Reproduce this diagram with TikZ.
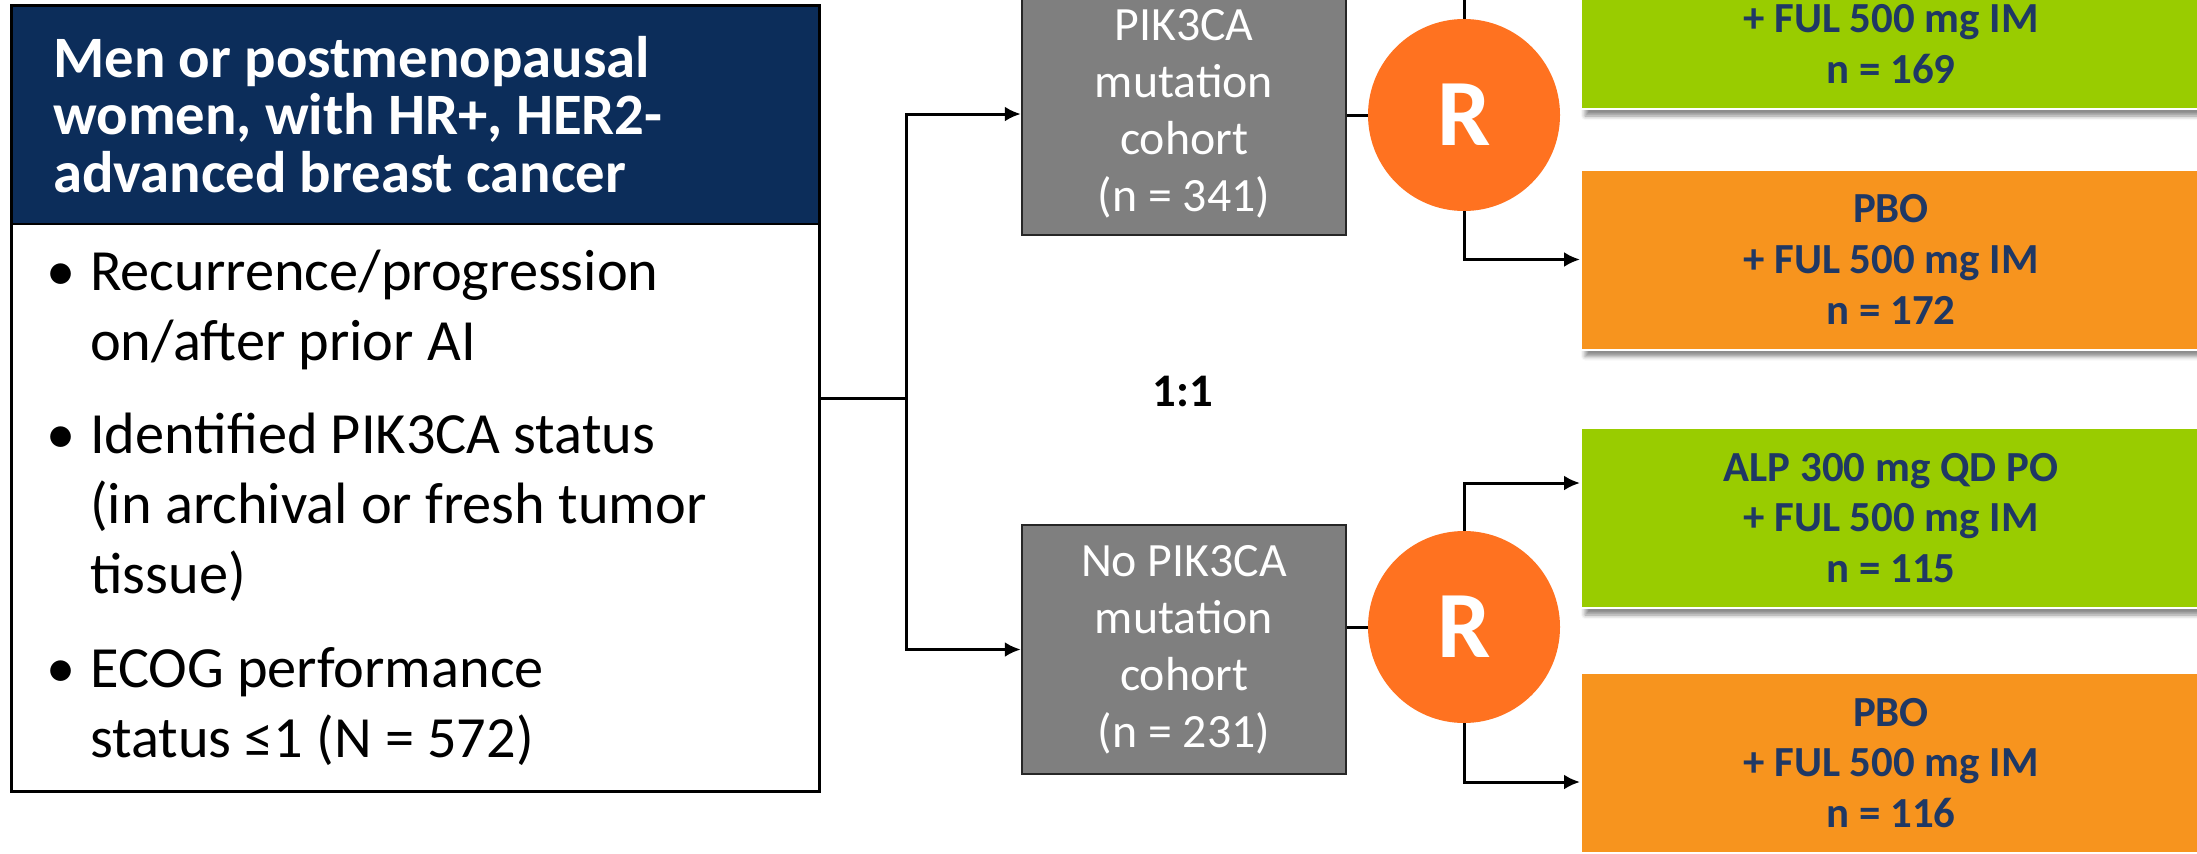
\documentclass[tikz,border=0pt]{standalone}
\usepackage{fontspec}
\setmainfont{Carlito}
\usepackage{tikz}
\usetikzlibrary{arrows.meta,shapes.multipart,shadows.blur}
\definecolor{hdrblue}{RGB}{12,45,90}
\definecolor{armgreen}{RGB}{153,204,0}
\definecolor{armorange}{RGB}{247,148,30}
\definecolor{rorange}{RGB}{255,114,32}
\definecolor{armtext}{RGB}{31,56,100}
\definecolor{cohortgray}{RGB}{127,127,127}
\newcommand{\bulletline}{\makebox[0.88cm][l]{\textbullet}}
\newcommand{\contline}{\hspace*{0.88cm}}
\tikzset{
	>={Latex[length=0.32cm,width=0.3cm]},
	line/.style={line width=0.06cm},
	elig/.style={
			draw,
			line width=0.05cm,
			rectangle split,
			rectangle split parts=2,
			rectangle split part fill={hdrblue,white},
			inner sep=0pt
		},
	cohort/.style={
			draw=black!85,
			line width=0.05cm,
			fill=cohortgray,
			text=white,
			minimum width=6.48cm,
			minimum height=4.98cm,
			align=center,
			font=\fontsize{27.2}{32.4}\selectfont,
			execute at begin node=\rule{0pt}{1.1cm}
		},
	arm/.style={
			draw=white,
			line width=0.04cm,
			minimum width=12.4cm,
			minimum height=3.6cm,
			align=center,
			text=armtext,
			font=\bfseries\fontsize{24.4}{28.9}\selectfont,
			blur shadow={shadow xshift=0.08cm, shadow yshift=-0.14cm, shadow blur radius=0.08cm, shadow opacity=45}
		},
	rand/.style={
			circle,
			fill=rorange,
			minimum size=3.84cm,
			text=white,
			font=\bfseries\fontsize{54}{54}\selectfont
		}
}
\begin{document}
\begin{tikzpicture}
	\useasboundingbox (0,0) rectangle (43.94,-17.06);
	\clip (0,0) rectangle (43.94,-17.06);

	% eligibility
	\node[elig, anchor=north west] at (0.2,-0.08) (elig) {\parbox[c][4.32cm][c]{16.16cm}{\leftskip=0.84cm
			\color{white}\bfseries\fontsize{33.4}{32.9}\selectfont
			Men or postmenopausal\\
			women, with HR+, HER2-\\
			advanced breast cancer}
		\nodepart{second}
		\parbox[c][11.3cm][c]{16.16cm}{\fontsize{33.2}{39.7}\selectfont\leftskip=0.7cm
			\bulletline Recurrence/progression\\
			\contline on/after prior AI\par\vspace{0.48cm}
			\bulletline Identified PIK3CA status\\
			\contline (in archival or fresh tumor\\
			\contline tissue)\par\vspace{0.48cm}
			\bulletline ECOG performance\\
			\contline status ≤1 (N = 572)}};

	% cohorts
	\node[cohort, minimum height=4.84cm, execute at begin node=\rule{0pt}{1.26cm}] at (23.68,-2.28) (pik) {PIK3CA\\mutation\\cohort\\(n = 341)};
	\node[cohort] at (23.68,-12.99) (nopik) {No PIK3CA\\mutation\\cohort\\(n = 231)};
	\node[font=\bfseries\fontsize{26.6}{26.6}\selectfont] at (23.66,-7.82) (ratio) {1:1};

	% randomisation
	\node[rand] at (29.28,-2.3) (r1) {R};
	\node[rand] at (29.28,-12.54) (r2) {R};

	% arms
	\node[arm, fill=armgreen] at (37.82,-0.38) (alp1) {ALP 300 mg QD PO\\+ FUL 500 mg IM\\n = 169};
	\node[arm, fill=armorange] at (37.82,-5.19) (pbo1) {PBO\\+ FUL 500 mg IM\\n = 172};
	\node[arm, fill=armgreen] at (37.82,-10.36) (alp2) {ALP 300 mg QD PO\\+ FUL 500 mg IM\\n = 115};
	\node[arm, fill=armorange] at (37.82,-15.26) (pbo2) {PBO\\+ FUL 500 mg IM\\n = 116};

	\draw[line] (elig.east) -- ++(1.72,0) coordinate (split);
	\draw[line, ->] (split) |- (pik.west);
	\draw[line, ->] (split) |- (nopik.west);

	\draw[line] (r1.west -| pik.east) -- (r1.west);
	\draw[line] (r2.west -| nopik.east) -- (r2.west);

	\draw[line, ->] (r1.north) |- ([yshift=0.7cm]alp1.west);
	\draw[line, ->] (r1.south) |- (pbo1.west);
	\draw[line, ->] (r2.north) |- ([yshift=0.7cm]alp2.west);
	\draw[line, ->] (r2.south) |- ([yshift=-0.38cm]pbo2.west);
\end{tikzpicture}
\end{document}
